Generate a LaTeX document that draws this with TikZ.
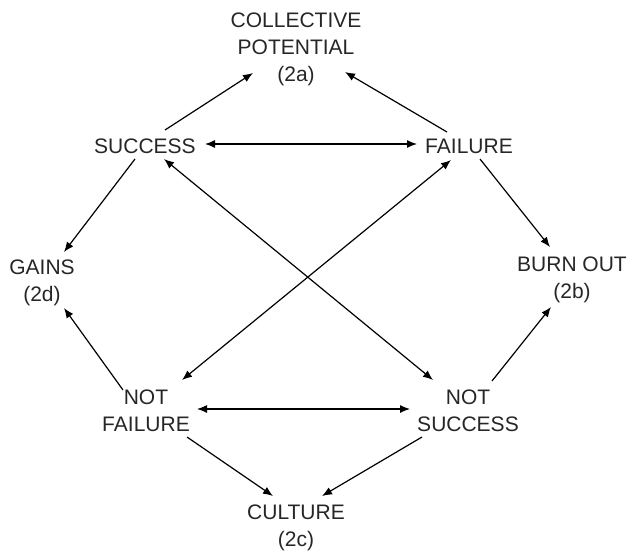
\documentclass[tikz,border=0pt]{standalone}
\usepackage{fontspec}
\setmainfont{Liberation Sans}
\usetikzlibrary{arrows.meta,calc}
\begin{document}
\begin{tikzpicture}[x=1pt,y=-1pt,
  lbl/.style={inner sep=0pt,align=center,anchor=north,text=black!85,
    font=\fontsize{21}{27}\selectfont},
  one/.style={inner sep=0pt,text=black!85,font=\fontsize{21}{27}\selectfont},
  conn/.style={line width=1.2pt,-{Latex[length=10pt,width=8pt]}},
  both/.style={line width=1.2pt,{Latex[length=10pt,width=8pt]}-{Latex[length=10pt,width=8pt]}}]
\useasboundingbox (0,0) rectangle (629,552);
\node[lbl] (a) at (296,13) {COLLECTIVE\\POTENTIAL\\(2a)};
\node[one] (s) at (145,146) {SUCCESS};
\node[one] (f) at (469,146) {FAILURE};
\node[lbl] (g) at (42,260) {GAINS\\(2d)};
\node[lbl] (b) at (572,257) {BURN OUT\\(2b)};
\node[lbl] (nf) at (146,390) {NOT\\FAILURE};
\node[lbl] (ns) at (468,390) {NOT\\SUCCESS};
\node[lbl] (c) at (296,505) {CULTURE\\(2c)};
\draw[conn] ($(s)+(20,-16)$) -- ($(a.north)+(-43,60)$);
\draw[conn] ($(f)+(-22,-14)$) -- ($(a.north)+(49,59)$);
\draw[both] ($(s)+(60,-2)$) -- ($(f)+(-52,-2)$);
\draw[conn] ($(s)+(-10,13)$) -- ($(g.north)+(22,-8)$);
\draw[conn] ($(f)+(11,13)$) -- ($(b.north)+(-22,-10)$);
\draw[conn] ($(nf.north)+(-23,0)$) -- ($(g.north)+(22,48)$);
\draw[conn] ($(ns.north)+(24,-9)$) -- ($(b.north)+(-21,50)$);
\draw[both] ($(s)+(19,13)$) -- ($(ns.north)+(-35,-10)$);
\draw[both] ($(f)+(-18,14)$) -- ($(nf.north)+(36,-10)$);
\draw[both] ($(nf.north)+(51,19)$) -- ($(ns.north)+(-58,19)$);
\draw[conn] ($(nf.north)+(41,47)$) -- ($(c.north)+(-23,-9)$);
\draw[conn] ($(ns.north)+(-46,47)$) -- ($(c.north)+(26,-9)$);
\end{tikzpicture}
\end{document}
